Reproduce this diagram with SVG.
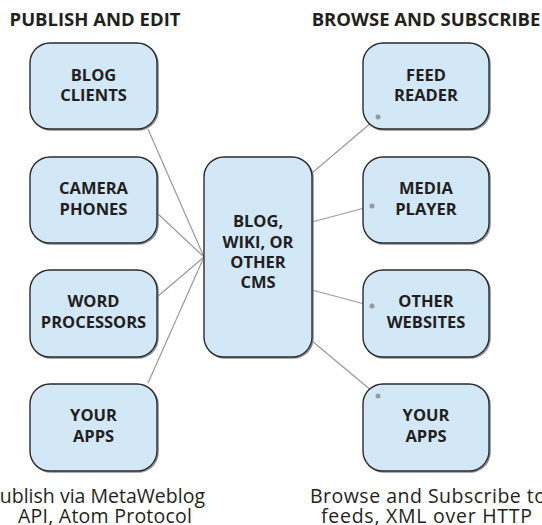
<svg xmlns="http://www.w3.org/2000/svg" width="542" height="525" viewBox="0 0 542 525">
  <defs>
    <style>
      .box { fill: #d3e8f7; stroke: #2b2b2b; stroke-width: 1.4; }
      .shadow { fill: none; stroke: #8a8f94; stroke-width: 1.6; }
      .lbl { font-family: "Open Sans", "Liberation Sans", sans-serif; font-weight: 700; font-size: 16.5px; fill: #231f20; text-anchor: middle; }
      .title { font-family: "Open Sans", "Liberation Sans", sans-serif; font-weight: 700; font-size: 18.5px; fill: #231f20; text-anchor: middle; }
      .cap { font-family: "Open Sans", "Liberation Sans", sans-serif; font-weight: 400; font-size: 19.5px; fill: #231f20; }
      .wire { stroke: #999999; stroke-width: 1.2; fill: none; }
      .dot { fill: #999999; }
    </style>
  </defs>

  <rect width="542" height="525" fill="#ffffff"/>

  <!-- section headings -->
  <text class="title" x="95" y="26">PUBLISH AND EDIT</text>
  <text class="title" x="426" y="26">BROWSE AND SUBSCRIBE</text>

  <!-- connectors -->
  <g id="connectors">
    <line class="wire" x1="148" y1="129" x2="204" y2="257"/>
    <line class="wire" x1="157" y1="213" x2="204" y2="257"/>
    <line class="wire" x1="157" y1="297" x2="204" y2="257"/>
    <line class="wire" x1="148" y1="383" x2="204" y2="257"/>
    <line class="wire" x1="312" y1="173" x2="378" y2="117"/>
    <line class="wire" x1="312" y1="222" x2="372" y2="206"/>
    <line class="wire" x1="312" y1="290" x2="372" y2="306"/>
    <line class="wire" x1="312" y1="341" x2="378" y2="396"/>
  </g>

  <!-- publishing clients -->
  <g id="blog-clients">
    <rect class="shadow" x="31" y="44" width="127" height="86" rx="20"/>
    <rect class="box" x="30" y="43" width="127" height="86" rx="20"/>
    <text class="lbl" x="93.5" y="81">BLOG</text>
    <text class="lbl" x="93.5" y="101">CLIENTS</text>
  </g>
  <g id="camera-phones">
    <rect class="shadow" x="31" y="158" width="127" height="86" rx="20"/>
    <rect class="box" x="30" y="157" width="127" height="86" rx="20"/>
    <text class="lbl" x="93.5" y="194">CAMERA</text>
    <text class="lbl" x="93.5" y="215">PHONES</text>
  </g>
  <g id="word-processors">
    <rect class="shadow" x="31" y="271" width="127" height="87" rx="20"/>
    <rect class="box" x="30" y="270" width="127" height="87" rx="20"/>
    <text class="lbl" x="93.5" y="307">WORD</text>
    <text class="lbl" x="93.5" y="328">PROCESSORS</text>
  </g>
  <g id="your-apps-publish">
    <rect class="shadow" x="31" y="385" width="127" height="87" rx="20"/>
    <rect class="box" x="30" y="384" width="127" height="87" rx="20"/>
    <text class="lbl" x="93.5" y="421">YOUR</text>
    <text class="lbl" x="93.5" y="442">APPS</text>
  </g>

  <!-- central content system -->
  <g id="cms">
    <rect class="shadow" x="205" y="158" width="108" height="200" rx="20"/>
    <rect class="box" x="204" y="157" width="108" height="200" rx="20"/>
    <text class="lbl" x="258" y="227">BLOG,</text>
    <text class="lbl" x="258" y="248">WIKI, OR</text>
    <text class="lbl" x="258" y="268">OTHER</text>
    <text class="lbl" x="258" y="288">CMS</text>
  </g>

  <!-- consumers -->
  <g id="feed-reader">
    <rect class="shadow" x="364" y="44" width="126" height="86" rx="20"/>
    <rect class="box" x="363" y="43" width="126" height="86" rx="20"/>
    <text class="lbl" x="426" y="81">FEED</text>
    <text class="lbl" x="426" y="101">READER</text>
    <circle class="dot" cx="378" cy="117" r="2.5"/>
  </g>
  <g id="media-player">
    <rect class="shadow" x="364" y="158" width="126" height="86" rx="20"/>
    <rect class="box" x="363" y="157" width="126" height="86" rx="20"/>
    <text class="lbl" x="426" y="194">MEDIA</text>
    <text class="lbl" x="426" y="215">PLAYER</text>
    <circle class="dot" cx="372" cy="206" r="2.5"/>
  </g>
  <g id="other-websites">
    <rect class="shadow" x="364" y="271" width="126" height="87" rx="20"/>
    <rect class="box" x="363" y="270" width="126" height="87" rx="20"/>
    <text class="lbl" x="426" y="307">OTHER</text>
    <text class="lbl" x="426" y="328">WEBSITES</text>
    <circle class="dot" cx="372" cy="306" r="2.5"/>
  </g>
  <g id="your-apps-subscribe">
    <rect class="shadow" x="364" y="385" width="126" height="87" rx="20"/>
    <rect class="box" x="363" y="384" width="126" height="87" rx="20"/>
    <text class="lbl" x="426" y="421">YOUR</text>
    <text class="lbl" x="426" y="442">APPS</text>
    <circle class="dot" cx="378" cy="396" r="2.5"/>
  </g>

  <!-- captions -->
  <text class="cap" x="-12" y="503" textLength="217">Publish via MetaWeblog</text>
  <text class="cap" x="18" y="523" textLength="174">API, Atom Protocol</text>
  <text class="cap" x="310" y="503" textLength="236">Browse and Subscribe to</text>
  <text class="cap" x="321" y="523" textLength="211">feeds, XML over HTTP</text>
</svg>
